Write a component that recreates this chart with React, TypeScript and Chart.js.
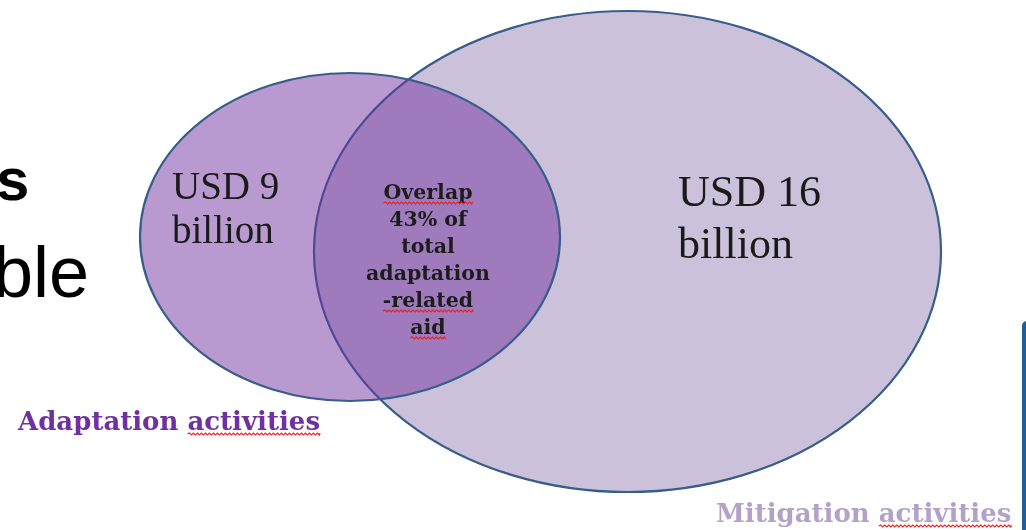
import React, { useEffect, useRef } from "react";
import { Chart, registerables } from "chart.js";

Chart.register(...registerables);

// ---- data ----
const setNames = ["Adaptation activities", "Mitigation activities"];
const setAmountsUSDbn = [9, 16];
const amountUnit = "billion";
const overlapSharePct = 43;
const overlapLines = ["Overlap", `${overlapSharePct}% of`, "total", "adaptation", "-related", "aid"];
const spellFlagged = ["Overlap", "-related", "aid", "activities"];

// ---- layout (axis units = canvas pixels) ----
const W = 1026;
const H = 530;
const ellipseCX = [350, 627.5];
const ellipseCY = [237, 251.5];
const ellipseRX = [210, 313.5];
const ellipseRY = [164, 240.5];
const fills = ["rgba(112,48,160,0.49)", "rgba(128,100,162,0.40)"];
const outline = "#385d8a";
const drawOrder = [1, 0];

const amountPos = [
  { x: 172, y: 199, step: 44, font: '39px "Liberation Serif"' },
  { x: 678, y: 206, step: 52, font: '44px "Liberation Serif"' },
];
const overlapPos = { x: 428, y: 199, step: 27, font: 'bold 20.5px "DejaVu Serif"' };
const namePos = [
  { x: 18, y: 430, color: "#7030a0" },
  { x: 716, y: 522, color: "#b3a2c7" },
];
const nameFont = 'bold 26px "DejaVu Serif"';

function wavy(ctx: CanvasRenderingContext2D, x0: number, x1: number, y: number) {
  ctx.save();
  ctx.beginPath();
  ctx.moveTo(x0, y);
  let up = true;
  for (let x = x0; x < x1; x += 2) {
    ctx.lineTo(Math.min(x + 2, x1), y + (up ? -1 : 1));
    up = !up;
  }
  ctx.strokeStyle = "rgba(240,30,30,0.95)";
  ctx.lineWidth = 1.2;
  ctx.stroke();
  ctx.restore();
}

function drawLine(
  ctx: CanvasRenderingContext2D,
  text: string,
  x: number,
  y: number,
  align: "left" | "center",
  underlineGap: number
) {
  ctx.textAlign = align;
  ctx.fillText(text, x, y);
  const total = ctx.measureText(text).width;
  const start = align === "center" ? x - total / 2 : x;
  spellFlagged.forEach((w) => {
    const idx = text.indexOf(w);
    if (idx < 0) return;
    const pre = ctx.measureText(text.slice(0, idx)).width;
    const ww = ctx.measureText(w).width;
    wavy(ctx, start + pre, start + pre + ww, y + underlineGap);
  });
}

const vennPlugin = {
  id: "venn",
  afterDatasetsDraw(chart: any) {
    const { ctx, scales } = chart;
    const px = (v: number) => scales.x.getPixelForValue(v);
    const py = (v: number) => scales.y.getPixelForValue(v);
    ctx.save();

    // slide fragments behind the diagram
    ctx.fillStyle = "#000";
    ctx.textAlign = "left";
    ctx.textBaseline = "alphabetic";
    ctx.font = 'bold 60px "Liberation Sans"';
    ctx.fillText("s", px(-4), py(200));
    ctx.font = '72px "Liberation Sans"';
    ctx.fillText("ble", px(-7), py(297));
    ctx.fillStyle = "#1f5f96";
    ctx.beginPath();
    ctx.moveTo(px(1022), py(H));
    ctx.lineTo(px(1022), py(326));
    ctx.quadraticCurveTo(px(1022), py(322), px(1026), py(321));
    ctx.lineTo(px(1030), py(321));
    ctx.lineTo(px(1030), py(H));
    ctx.closePath();
    ctx.fill();

    // ellipses
    drawOrder.forEach((i) => {
      const pt = chart.data.datasets[i].data[0];
      const cx = px(pt.x);
      const cy = py(pt.y);
      const rx = Math.abs(px(pt.x + ellipseRX[i]) - cx);
      const ry = Math.abs(py(pt.y + ellipseRY[i]) - cy);
      ctx.beginPath();
      ctx.ellipse(cx, cy, rx, ry, 0, 0, Math.PI * 2);
      ctx.fillStyle = fills[i];
      ctx.fill();
      ctx.lineWidth = 2.2;
      ctx.strokeStyle = outline;
      ctx.stroke();
    });

    // amounts
    ctx.fillStyle = "#1a1a1a";
    setAmountsUSDbn.forEach((v, i) => {
      const p = amountPos[i];
      ctx.font = p.font;
      drawLine(ctx, `USD ${v}`, px(p.x), py(p.y), "left", 4);
      drawLine(ctx, amountUnit, px(p.x), py(p.y + p.step), "left", 4);
    });

    // overlap
    ctx.fillStyle = "#1c1c1c";
    ctx.font = overlapPos.font;
    overlapLines.forEach((t, k) => {
      drawLine(ctx, t, px(overlapPos.x), py(overlapPos.y + k * overlapPos.step), "center", 4);
    });

    // set names
    ctx.font = nameFont;
    setNames.forEach((n, i) => {
      ctx.fillStyle = namePos[i].color;
      drawLine(ctx, n, px(namePos[i].x), py(namePos[i].y), "left", 4);
    });

    ctx.restore();
  },
};

export default function App() {
  const ref = useRef<HTMLCanvasElement | null>(null);
  useEffect(() => {
    if (!ref.current) return;
    const chart = new Chart(ref.current, {
      type: "scatter",
      data: {
        datasets: setNames.map((n, i) => ({
          label: n,
          data: [{ x: ellipseCX[i], y: ellipseCY[i] }],
          pointRadius: 0,
          pointHoverRadius: 0,
        })),
      },
      options: {
        animation: false,
        responsive: false,
        events: [],
        layout: { padding: 0 },
        plugins: { legend: { display: false }, tooltip: { enabled: false }, title: { display: false } },
        scales: {
          x: { type: "linear", min: 0, max: W, display: false },
          y: { type: "linear", min: 0, max: H, reverse: true, display: false },
        },
      },
      plugins: [vennPlugin],
    });
    return () => chart.destroy();
  }, []);
  return (
    <div style={{ position: "fixed", left: 0, top: 0, width: W, height: H, background: "#fff" }}>
      <canvas ref={ref} width={W} height={H} style={{ display: "block", width: W, height: H }} />
    </div>
  );
}
